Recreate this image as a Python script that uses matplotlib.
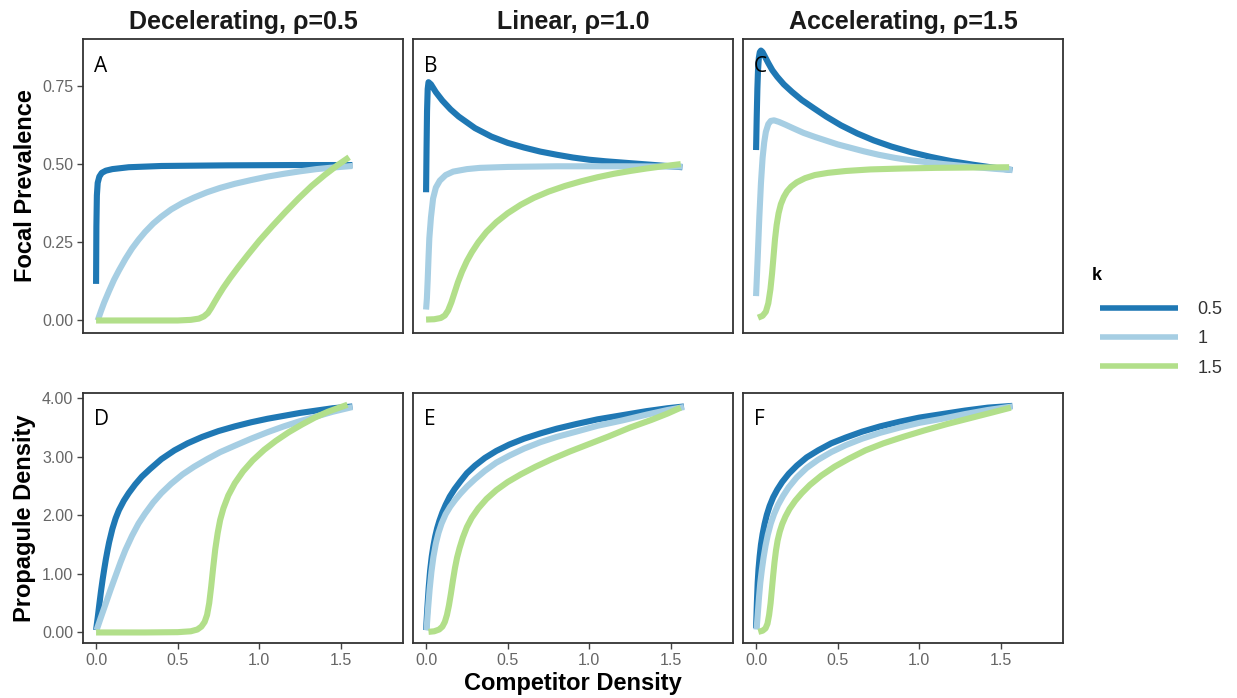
import matplotlib
matplotlib.use("Agg")
import matplotlib.pyplot as plt

plt.rcParams['font.family'] = ['Liberation Sans', 'DejaVu Sans']

# ---------------------------------------------------------------- data
titles = ["Decelerating, \u03c1=0.5", "Linear, \u03c1=1.0", "Accelerating, \u03c1=1.5"]
panel_letters = ["A", "B", "C", "D", "E", "F"]
k_labels = ["0.5", "1", "1.5"]
k_colors = ["#1F78B4", "#A6CEE3", "#B2DF8A"]

prev_ticks = [0.0, 0.25, 0.5, 0.75]
prev_ticklabels = ["0.00", "0.25", "0.50", "0.75"]
dens_ticks = [0, 1, 2, 3, 4]
dens_ticklabels = ["0.00", "1.00", "2.00", "3.00", "4.00"]
x_ticks = [0.0, 0.5, 1.0, 1.5]
x_ticklabels = ["0.0", "0.5", "1.0", "1.5"]

# A - focal prevalence, rho = 0.5
a_x_05 = [0, 0.002, 0.005, 0.01, 0.02, 0.035, 0.06, 0.1, 0.2, 0.4, 0.8, 1.2, 1.57]
a_y_05 = [0.117, 0.30, 0.40, 0.44, 0.46, 0.472, 0.479, 0.484, 0.49, 0.494, 0.496, 0.497, 0.497]
a_x_1 = [0.01, 0.03, 0.05, 0.08, 0.11, 0.14, 0.18, 0.22, 0.26, 0.3, 0.35, 0.4, 0.46, 0.53,
         0.6, 0.68, 0.76, 0.85, 0.95, 1.05, 1.15, 1.25, 1.35, 1.45, 1.57]
a_y_1 = [0, 0.03, 0.058, 0.095, 0.13, 0.16, 0.197, 0.23, 0.258, 0.283, 0.31, 0.332, 0.355,
         0.376, 0.393, 0.41, 0.424, 0.437, 0.449, 0.46, 0.469, 0.477, 0.484, 0.489, 0.494]
a_x_15 = [0, 0.3, 0.5, 0.58, 0.63, 0.66, 0.685, 0.705, 0.725, 0.75, 0.78, 0.82, 0.87, 0.93,
          1.0, 1.08, 1.16, 1.24, 1.32, 1.4, 1.48, 1.55]
a_y_15 = [0, 0, 0, 0.002, 0.006, 0.013, 0.024, 0.04, 0.058, 0.08, 0.105, 0.135, 0.17, 0.21,
          0.255, 0.302, 0.347, 0.39, 0.43, 0.465, 0.497, 0.522]

# B - focal prevalence, rho = 1.0
b_x_05 = [0, 0.003, 0.006, 0.01, 0.015, 0.03, 0.06, 0.1, 0.15, 0.2, 0.3, 0.4, 0.5, 0.6,
          0.7, 0.8, 0.9, 1.0, 1.1, 1.2, 1.3, 1.4, 1.5, 1.57]
b_y_05 = [0.41, 0.55, 0.67, 0.74, 0.762, 0.755, 0.73, 0.703, 0.675, 0.652, 0.615, 0.588,
          0.568, 0.553, 0.54, 0.53, 0.521, 0.514, 0.509, 0.505, 0.501, 0.497, 0.493, 0.49]
b_x_1 = [0, 0.005, 0.01, 0.015, 0.02, 0.03, 0.043, 0.06, 0.084, 0.12, 0.166, 0.25, 0.33,
         0.5, 0.8, 1.2, 1.57]
b_y_1 = [0.035, 0.07, 0.13, 0.2, 0.263, 0.33, 0.39, 0.425, 0.447, 0.465, 0.476, 0.484,
         0.488, 0.491, 0.493, 0.493, 0.492]
b_x_15 = [0, 0.05, 0.09, 0.115, 0.135, 0.155, 0.175, 0.195, 0.22, 0.25, 0.28, 0.32, 0.37,
          0.43, 0.5, 0.58, 0.66, 0.75, 0.85, 0.95, 1.05, 1.15, 1.25, 1.35, 1.45, 1.56]
b_y_15 = [0.003, 0.004, 0.008, 0.016, 0.032, 0.058, 0.09, 0.122, 0.156, 0.19, 0.218, 0.25,
          0.283, 0.314, 0.343, 0.37, 0.392, 0.412, 0.43, 0.445, 0.458, 0.469, 0.478, 0.486,
          0.493, 0.5]

# C - focal prevalence, rho = 1.5
c_x_05 = [0, 0.004, 0.008, 0.012, 0.017, 0.023, 0.03, 0.04, 0.055, 0.075, 0.1, 0.13, 0.17,
          0.22, 0.28, 0.35, 0.43, 0.52, 0.62, 0.72, 0.83, 0.95, 1.07, 1.2, 1.33, 1.45, 1.57]
c_y_05 = [0.545, 0.65, 0.74, 0.8, 0.84, 0.858, 0.863, 0.858, 0.843, 0.823, 0.8, 0.779,
          0.755, 0.731, 0.705, 0.68, 0.652, 0.624, 0.598, 0.576, 0.556, 0.538, 0.523, 0.509,
          0.498, 0.489, 0.481]
c_x_1 = [0, 0.01, 0.02, 0.03, 0.04, 0.05, 0.06, 0.075, 0.09, 0.11, 0.14, 0.18, 0.23, 0.29,
         0.36, 0.43, 0.5, 0.58, 0.66, 0.75, 0.85, 0.95, 1.05, 1.15, 1.25, 1.35, 1.46, 1.57]
c_y_1 = [0.078, 0.2, 0.33, 0.44, 0.52, 0.57, 0.603, 0.628, 0.638, 0.64, 0.635, 0.626,
         0.614, 0.6, 0.587, 0.575, 0.563, 0.552, 0.541, 0.53, 0.52, 0.512, 0.506, 0.5, 0.495,
         0.49, 0.485, 0.481]
c_x_15 = [0.012, 0.04, 0.06, 0.075, 0.088, 0.098, 0.107, 0.116, 0.126, 0.138, 0.152, 0.17,
          0.19, 0.215, 0.25, 0.3, 0.36, 0.44, 0.55, 0.7, 0.9, 1.1, 1.3, 1.55]
c_y_15 = [0.009, 0.015, 0.028, 0.055, 0.1, 0.15, 0.205, 0.26, 0.305, 0.343, 0.372, 0.395,
          0.413, 0.428, 0.442, 0.455, 0.465, 0.472, 0.478, 0.483, 0.486, 0.488, 0.489, 0.49]

# D - propagule density, rho = 0.5
d_x_05 = [0, 0.01, 0.02, 0.03, 0.04, 0.05, 0.06, 0.07, 0.08, 0.1, 0.12, 0.14, 0.17, 0.2,
          0.24, 0.28, 0.33, 0.4, 0.48, 0.56, 0.65, 0.75, 0.85, 0.95, 1.05, 1.15, 1.25, 1.35,
          1.45, 1.57]
d_y_05 = [0.04, 0.25, 0.48, 0.7, 0.9, 1.08, 1.25, 1.4, 1.54, 1.77, 1.95, 2.09, 2.25, 2.38,
          2.53, 2.66, 2.79, 2.96, 3.11, 3.23, 3.34, 3.44, 3.52, 3.59, 3.65, 3.7, 3.75, 3.79,
          3.83, 3.86]
d_x_1 = [0.003, 0.03, 0.06, 0.09, 0.12, 0.15, 0.18, 0.22, 0.26, 0.3, 0.35, 0.4, 0.46, 0.53,
         0.6, 0.68, 0.76, 0.85, 0.95, 1.05, 1.15, 1.25, 1.35, 1.45, 1.57]
d_y_1 = [0.04, 0.26, 0.5, 0.74, 0.97, 1.2, 1.41, 1.65, 1.86, 2.03, 2.22, 2.38, 2.54, 2.7,
         2.83, 2.96, 3.08, 3.19, 3.31, 3.42, 3.52, 3.61, 3.69, 3.77, 3.85]
d_x_15 = [0, 0.3, 0.5, 0.58, 0.62, 0.645, 0.665, 0.68, 0.693, 0.705, 0.717, 0.73, 0.745,
          0.76, 0.78, 0.81, 0.85, 0.9, 0.96, 1.03, 1.1, 1.18, 1.26, 1.34, 1.42, 1.54]
d_y_15 = [0, 0, 0.005, 0.02, 0.05, 0.1, 0.18, 0.3, 0.5, 0.78, 1.1, 1.42, 1.7, 1.92, 2.12,
          2.34, 2.55, 2.75, 2.94, 3.12, 3.27, 3.42, 3.55, 3.67, 3.77, 3.89]

# E - propagule density, rho = 1.0
e_x_05 = [0, 0.008, 0.016, 0.025, 0.035, 0.045, 0.056, 0.068, 0.082, 0.1, 0.12, 0.145,
          0.175, 0.21, 0.25, 0.3, 0.36, 0.43, 0.51, 0.6, 0.7, 0.8, 0.92, 1.05, 1.2, 1.35,
          1.48, 1.58]
e_y_05 = [0.04, 0.42, 0.76, 1.06, 1.3, 1.48, 1.64, 1.78, 1.91, 2.05, 2.18, 2.32, 2.45,
          2.58, 2.72, 2.85, 2.98, 3.1, 3.21, 3.31, 3.4, 3.48, 3.56, 3.64, 3.71, 3.78, 3.83,
          3.86]
e_x_1 = [0.003, 0.012, 0.022, 0.033, 0.045, 0.06, 0.076, 0.095, 0.12, 0.148, 0.18, 0.21,
         0.25, 0.3, 0.36, 0.43, 0.51, 0.6, 0.7, 0.8, 0.92, 1.05, 1.2, 1.35, 1.48, 1.58]
e_y_1 = [0.04, 0.4, 0.74, 1.04, 1.29, 1.52, 1.7, 1.86, 2.02, 2.15, 2.27, 2.37, 2.49, 2.62,
         2.76, 2.9, 3.02, 3.14, 3.25, 3.34, 3.43, 3.53, 3.62, 3.72, 3.8, 3.85]
e_x_15 = [0.015, 0.05, 0.08, 0.1, 0.115, 0.128, 0.14, 0.152, 0.164, 0.177, 0.19, 0.205,
          0.225, 0.25, 0.28, 0.32, 0.37, 0.43, 0.5, 0.58, 0.67, 0.77, 0.88, 1.0, 1.12, 1.25,
          1.38, 1.48, 1.56]
e_y_15 = [0.01, 0.02, 0.05, 0.1, 0.18, 0.3, 0.46, 0.66, 0.88, 1.1, 1.28, 1.44, 1.62, 1.8,
          1.96, 2.12, 2.28, 2.43, 2.57, 2.7, 2.83, 2.96, 3.09, 3.22, 3.35, 3.5, 3.63, 3.74,
          3.84]

# F - propagule density, rho = 1.5
f_x_05 = [0, 0.005, 0.01, 0.015, 0.022, 0.03, 0.04, 0.052, 0.066, 0.083, 0.105, 0.13, 0.16,
          0.2, 0.25, 0.31, 0.38, 0.46, 0.55, 0.65, 0.76, 0.88, 1.0, 1.14, 1.28, 1.42, 1.57]
f_y_05 = [0.07, 0.5, 0.85, 1.08, 1.3, 1.5, 1.68, 1.85, 2.01, 2.16, 2.31, 2.44, 2.57, 2.71,
          2.85, 2.99, 3.11, 3.23, 3.33, 3.43, 3.52, 3.6, 3.67, 3.73, 3.79, 3.84, 3.87]
f_x_1 = [0.003, 0.01, 0.018, 0.026, 0.035, 0.046, 0.058, 0.072, 0.09, 0.11, 0.135, 0.165,
         0.2, 0.25, 0.31, 0.38, 0.46, 0.55, 0.65, 0.76, 0.88, 1.0, 1.14, 1.28, 1.42, 1.57]
f_y_1 = [0.05, 0.3, 0.6, 0.85, 1.06, 1.28, 1.48, 1.67, 1.86, 2.02, 2.18, 2.33, 2.48, 2.65,
         2.81, 2.95, 3.08, 3.2, 3.31, 3.41, 3.5, 3.58, 3.65, 3.73, 3.8, 3.86]
f_x_15 = [0.014, 0.04, 0.058, 0.07, 0.08, 0.089, 0.097, 0.105, 0.113, 0.122, 0.132, 0.145,
          0.16, 0.18, 0.205, 0.24, 0.28, 0.33, 0.4, 0.48, 0.57, 0.67, 0.78, 0.9, 1.03, 1.17,
          1.31, 1.45, 1.56]
f_y_15 = [0.01, 0.03, 0.07, 0.15, 0.3, 0.5, 0.74, 0.98, 1.2, 1.4, 1.57, 1.72, 1.85, 1.98,
          2.11, 2.25, 2.38, 2.52, 2.68, 2.83, 2.97, 3.11, 3.23, 3.34, 3.45, 3.56, 3.66, 3.76,
          3.84]

panels = [
    [(a_x_05, a_y_05), (a_x_1, a_y_1), (a_x_15, a_y_15)],
    [(b_x_05, b_y_05), (b_x_1, b_y_1), (b_x_15, b_y_15)],
    [(c_x_05, c_y_05), (c_x_1, c_y_1), (c_x_15, c_y_15)],
    [(d_x_05, d_y_05), (d_x_1, d_y_1), (d_x_15, d_y_15)],
    [(e_x_05, e_y_05), (e_x_1, e_y_1), (e_x_15, e_y_15)],
    [(f_x_05, f_y_05), (f_x_1, f_y_1), (f_x_15, f_y_15)],
]

# ---------------------------------------------------------------- layout (pixels)
W, H = 1237, 698
col_left = [83, 413, 743]
panel_w = 320
row_top = [39, 393]
row_h = [294, 250]

fig = plt.figure(figsize=(W / 100, H / 100), dpi=100)

axes = []
for i in range(6):
    r, c = divmod(i, 3)
    rect = [col_left[c] / W, 1 - (row_top[r] + row_h[r]) / H, panel_w / W, row_h[r] / H]
    ax = fig.add_axes(rect)
    axes.append(ax)

    lines = []
    for (xs, ys), col in zip(panels[i], k_colors):
        ln, = ax.plot(xs, ys, color=col, lw=4.4, solid_capstyle='butt', solid_joinstyle='round')
        lines.append(ln)

    ax.set_xlim(-0.08, 1.88)
    if r == 0:
        ax.set_ylim(-0.04, 0.90)
        ax.set_yticks(prev_ticks)
        ax.set_yticklabels(prev_ticklabels)
    else:
        ax.set_ylim(-0.18, 4.09)
        ax.set_yticks(dens_ticks)
        ax.set_yticklabels(dens_ticklabels)
    ax.set_xticks(x_ticks)
    ax.set_xticklabels(x_ticklabels)

    ax.tick_params(axis='both', colors='#444444', labelcolor='#666666', labelsize=11.5,
                   length=4, width=1.0, pad=3)
    if r == 0:
        ax.tick_params(axis='x', bottom=False, labelbottom=False)
    if c != 0:
        ax.tick_params(axis='y', left=False, labelleft=False)
    for sp in ax.spines.values():
        sp.set_color('#333333')
        sp.set_linewidth(1.3)

    ax.text(0.035, 0.905 if r == 0 else 0.895, panel_letters[i], transform=ax.transAxes,
            fontsize=15, family=['Open Sans', 'DejaVu Sans'], color='black',
            ha='left', va='center', zorder=5)

    if r == 0:
        ax.set_title(titles[c], fontsize=18, fontweight='bold', color='#1a1a1a', pad=7)

axes[0].set_ylabel("Focal Prevalence", fontsize=17, fontweight='bold', labelpad=4)
axes[3].set_ylabel("Propagule Density", fontsize=17, fontweight='bold', labelpad=4)
axes[4].set_xlabel("Competitor Density", fontsize=17, fontweight='bold', labelpad=3)

# legend: title drawn separately so its gap to the keys matches
fig.text(1092 / W, 1 - 275 / H, "k", fontsize=13, fontweight='bold', ha='left', va='center')
leg = fig.legend(lines, k_labels, loc='upper left',
                 bbox_to_anchor=(1100 / W, 1 - 301 / H), frameon=False,
                 fontsize=13, handlelength=4.3, handletextpad=1.1, labelspacing=0.68,
                 borderpad=0, borderaxespad=0)
for h in leg.get_lines():
    h.set_linewidth(4.0)
for t in leg.get_texts():
    t.set_color('#333333')

fig.savefig("out.png", dpi=100)
